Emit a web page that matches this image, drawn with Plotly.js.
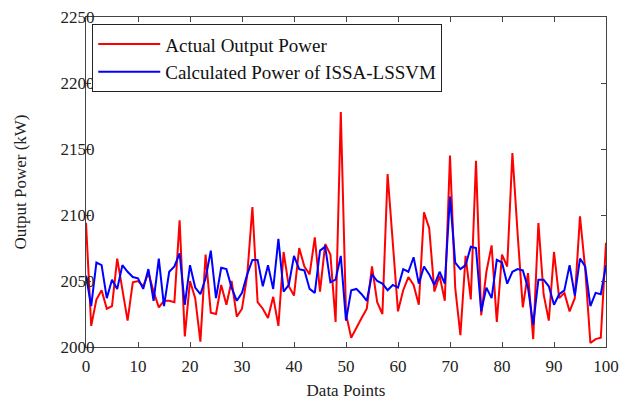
<!DOCTYPE html>
<html>
<head>
<meta charset="utf-8">
<script src="https://cdn.plot.ly/plotly-3.0.1.min.js"></script>
<style>html,body{margin:0;padding:0;background:#fff;}#chart{width:621px;height:400px;}</style>
</head>
<body>
<div id="chart"></div>
<script>
const seriesNames = ["Actual Output Power", "Calculated Power of ISSA-LSSVM"];
const dataPoints = Array.from({length: 101}, (_, i) => i);
const actualPower = [
  2094, 2016, 2036, 2043, 2029, 2031, 2067, 2045, 2020, 2049,
  2050, 2046, 2056, 2042, 2030, 2035, 2035, 2034, 2096, 2008,
  2050, 2037, 2004, 2070, 2026, 2025, 2047, 2032, 2050, 2023,
  2029, 2054, 2106, 2034, 2029, 2022, 2038, 2016, 2072, 2046,
  2039, 2075, 2061, 2055, 2083, 2042, 2078, 2070, 2019, 2178,
  2025, 2007, 2015, 2022, 2029, 2061, 2034, 2025, 2131, 2080,
  2027, 2043, 2053, 2047, 2032, 2102, 2090, 2042, 2054, 2035,
  2145, 2045, 2009, 2069, 2036, 2141, 2024, 2057, 2077, 2019,
  2070, 2061, 2147, 2086, 2030, 2056, 2006, 2094, 2040, 2020,
  2072, 2037, 2041, 2027, 2037, 2099, 2059, 2003, 2006, 2007,
  2079
];
const predictedPower = [
  2054, 2031, 2064, 2062, 2037, 2051, 2044, 2062, 2057, 2053,
  2052, 2044, 2059, 2035, 2067, 2031, 2057, 2061, 2071, 2032,
  2062, 2045, 2040, 2052, 2073, 2037, 2060, 2059, 2045, 2035,
  2041, 2055, 2066, 2066, 2046, 2062, 2044, 2082, 2042, 2047,
  2069, 2059, 2058, 2044, 2041, 2073, 2076, 2049, 2051, 2069,
  2020, 2043, 2044, 2040, 2035, 2055, 2050, 2048, 2043, 2047,
  2045, 2059, 2057, 2068, 2048, 2061, 2055, 2047, 2057, 2048,
  2114, 2064, 2059, 2062, 2076, 2075, 2027, 2045, 2037, 2066,
  2064, 2048, 2057, 2059, 2058, 2045, 2017, 2051, 2051, 2046,
  2032, 2040, 2043, 2062, 2039, 2067, 2061, 2031, 2041, 2040,
  2062
];
const xTicks = [0, 10, 20, 30, 40, 50, 60, 70, 80, 90, 100];
const yTicks = [2000, 2050, 2100, 2150, 2200, 2250];

const fam = "Liberation Serif, Times New Roman, serif";
const tickFont = {family: fam, size: 17, color: "#222"};
const titleFont = {family: fam, size: 17, color: "#222"};
const legendFont = {family: fam, size: 19, color: "#111"};
const axisCommon = {
  showgrid: false, zeroline: false, showline: true, linecolor: "#444", linewidth: 1,
  mirror: "ticks", ticks: "inside", ticklen: 5, tickcolor: "#444", tickwidth: 1,
  tickfont: tickFont
};
const traces = [
  {x: dataPoints, y: actualPower, name: seriesNames[0], type: "scatter", mode: "lines",
   line: {color: "#ff0000", width: 2}},
  {x: dataPoints, y: predictedPower, name: seriesNames[1], type: "scatter", mode: "lines",
   line: {color: "#0000ff", width: 2}}
];
const layout = {
  width: 621, height: 400,
  margin: {l: 86, r: 15, t: 17, b: 53},
  paper_bgcolor: "#fff", plot_bgcolor: "#fff",
  font: tickFont,
  showlegend: true,
  legend: {x: 0.012, y: 0.978, xanchor: "left", yanchor: "top", bgcolor: "#fff",
           bordercolor: "#222", borderwidth: 1, font: legendFont, tracegroupgap: 0,
           itemwidth: 62},
  xaxis: Object.assign({}, axisCommon, {range: [0, 100], tickvals: xTicks,
    ticklabelstandoff: 4,
    title: {text: "Data Points", font: titleFont, standoff: 9}}),
  yaxis: Object.assign({}, axisCommon, {range: [2000, 2250], tickvals: yTicks,
    ticklabelstandoff: -13,
    title: {text: "Output Power (kW)", font: titleFont, standoff: 29}})
};
Plotly.newPlot("chart", traces, layout, {displayModeBar: false, staticPlot: true});
</script>
</body>
</html>
